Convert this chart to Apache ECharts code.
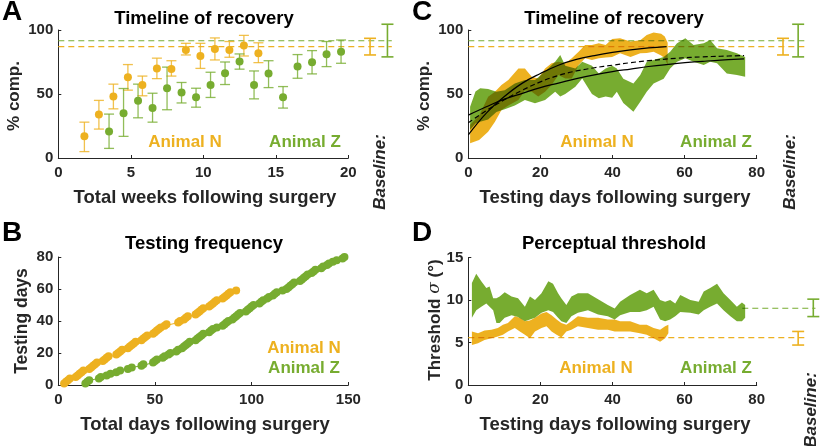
<!DOCTYPE html>
<html><head><meta charset="utf-8">
<script src="https://cdn.jsdelivr.net/npm/echarts@6/dist/echarts.min.js"></script>
<style>html,body{margin:0;padding:0;background:#fff}#c{width:820px;height:446px}</style>
</head><body><div id="c"></div>
<script>
// ---------- Colours ----------
const ORANGE = '#EDB120';
const GREEN = '#77AC30';
const DARK = '#262626';
const FONT = '"Liberation Sans", Arial, Helvetica, sans-serif';

// ---------- Panel A: weekly % completion (mean, error bar low/high) ----------
const weeksN = [1.8, 2.8, 3.8, 4.8, 5.8, 6.8, 7.8, 8.8, 9.8, 10.8, 11.8, 12.8, 13.8];
const pctN   = [17, 34, 48, 63, 57, 70, 69.6, 84.4, 79.7, 85.2, 84.4, 87.8, 81.8];
const loN    = [5, 22.6, 38.4, 53, 48.6, 62, 64, 80.5, 70, 76.6, 78.7, 79.7, 74.5];
const hiN    = [28, 45, 57.7, 73, 64, 78, 76, 89.6, 89.6, 93.8, 91, 95.8, 90];
const weeksZ = [3.5, 4.5, 5.5, 6.5, 7.5, 8.5, 9.5, 10.5, 11.5, 12.5, 13.5, 14.5, 15.5, 16.5, 17.5, 18.5, 19.5];
const pctZ   = [20.8, 35, 44.7, 39, 54.5, 51.2, 47.5, 57.1, 66.2, 75.3, 57.1, 66, 47.5, 71.4, 74.8, 81, 83.1];
const loZ    = [7.5, 16.9, 31.4, 28, 37.7, 43, 39.7, 47.3, 57.4, 69.4, 46.2, 55, 39, 62.3, 65.7, 71.4, 74];
const hiZ    = [34.3, 54.3, 57.7, 50.6, 71, 59, 54.5, 67, 75, 81.3, 68, 76, 55.8, 80.8, 83.9, 91, 92.2];

// Baseline (% comp.): mean, low, high
const baseRecN = [87, 80.5, 93.5];
const baseRecZ = [91.6, 79, 104.5];
// Baseline (threshold): mean, low, high
const baseThrN = [5.57, 4.7, 6.3];
const baseThrZ = [9.03, 8.05, 10.1];

// ---------- Panel B: total day of each testing session ----------
const sessionDaysN = [3,4,5,6, 9,10,11,12,13, 16,17,18,19,20, 23,24,25,26,
  30,31,32,33, 36,37,38,39,40, 43,44,45,46, 49,50,51,52,53, 55,56,
  62,63, 65,66,67, 71,72,73,74,75, 78,79,80,81,82, 85,86,87,88,89, 92];
const sessionDaysZ = [14,15,16, 21,22, 25,27, 30,32, 36,38, 43,44, 49,50,51, 54,55, 57,58, 61,62,
  64,65,66,67,68, 71,72,73,74,75, 78,79,80, 82, 85,86,87,88, 90,91,92,93,94,
  97,98,99,100,101, 104,105,106, 108,109, 111,112,113, 116, 118,119,120,121,122,
  125,126,127,128,129, 131,132,133, 136,137, 139,140, 142, 144, 147,148];

// ---------- Panel C: % comp. band per testing day [day, low, high] ----------
const bandRecN = [[0.5,11.5,26],[3,14,33],[5.5,20.6,47.9],[7.4,28.4,51.8],[9.2,37.5,57],[11.1,41,61],
  [13.9,45.3,70],[15.7,53,70],[17.6,51.8,63.5],[19.4,48,62.2],[21.3,51.8,70],[23.1,57,74],[25,64.8,75.2],
  [26.9,62.2,74],[28.7,62.2,77.9],[30.6,72.7,83],[32.4,77.9,88.3],[34.3,76.6,88.3],[36.2,77.9,89.6],
  [38.1,78.5,88.3],[39.9,79,93],[42.1,81.8,93.5],[45,79,91],[47.7,81.8,92],[49.5,82,96],[51.4,83,98],
  [53.5,80,97],[54.5,77.9,95],[55.3,72.7,90]];
const bandRecZ = [[0.5,22,40],[2,27,52],[3.3,28.4,54.4],[5.5,30,54],[7.8,36,51.8],[10.1,38,53],
  [12.9,41,58.3],[15.7,45.3,61],[18.5,42.7,61],[21.3,45.3,67.5],[24.1,51.8,75.2],[25.5,48,80.5],
  [26.9,50,72],[29.7,55.7,70],[31.6,62.2,75.2],[34.3,50,72],[36.2,46.6,66],[38.1,48,70],[39.9,47,72],
  [41.2,51.8,70],[43,43,62],[45.8,36.2,58.3],[47.7,44,64.8],[49.5,51.8,75.2],[51.4,58.3,76.6],
  [54.2,62,79],[56,70,83],[57.9,75.2,89.6],[60.2,77.9,93.5],[62.5,75.2,88.3],[65.3,72.7,89.6],
  [67.1,75.2,92.2],[69,74,85.7],[71.7,66,84.4],[74.5,64.8,81.8],[76.8,63.5,79]];
// Fitted curves [day, value]
const fitN = [[0,18],[5,35],[10,48],[15,58.5],[20,66],[25,72.5],[30,77],[35,80],[40,82.5],[45,84.5],[50,86],[55,87]];
const fitZ = [[0,33.5],[5,40],[10,46],[15,50.5],[20,55],[25,58.5],[30,62],[35,65],[40,67.5],[45,69.5],[50,71.5],[58,74],[65,75.5],[70,76.5],[76.5,77.5]];
const fitAll = [[0,27.5],[5,37],[10,45.5],[15,53],[20,59.5],[25,64.5],[30,68],[35,70.5],[40,72.5],[45,74.5],[50,76],[58,78],[65,79],[70,79.5],[76.5,80]];

// ---------- Panel D: threshold band per testing day [day, low, high] ----------
const bandThrN = [[1,4.7,6.3],[2.7,4.9,6.1],[4.5,5.3,6.4],[6.4,5.5,6.5],[8.2,5.7,6.7],[9.6,5.9,7.1],
  [11,6.3,7.3],[12.9,6.7,8.1],[14.3,6.3,7.9],[15.7,5.9,7.5],[17.1,5.5,7.6],[18.5,6.3,7.9],[20.3,6.7,8.4],
  [21.7,6.9,8.6],[23.1,6.3,8.2],[24.5,5.9,7.7],[25.8,5.6,7.3],[27.2,6.3,7.1],[28.6,6.5,7.5],[30.4,6.9,8.1],
  [33.2,6.7,7.9],[36,6.5,7.9],[38.7,6.5,7.7],[40.6,6.3,7.7],[42.1,6.3,7.5],[44.9,6.3,7.5],[47.6,6.1,7.1],
  [49.5,5.9,7.1],[51.4,5.5,6.7],[53.2,5.1,6.5],[54.6,5.5,6.9],[55.5,6.1,7.1]];
const bandThrZ = [[1,7.9,12],[2.2,8.8,13.1],[3.6,9.2,12.2],[5,9.6,11.4],[5.9,9.2,11.6],[6.9,8.8,10.2],
  [7.8,7.3,10.2],[8.7,7.3,10.4],[10.1,7.9,10.9],[12,8.2,10.4],[13.8,8,10.2],[15.7,7.5,9.2],[17.1,7.7,10.4],
  [18.5,7.9,10],[20.3,8.5,10.8],[22.2,8.8,12.2],[23.5,8.6,11.9],[24.9,7.9,10.8],[25.8,7.5,10.2],
  [27.2,7.3,9.4],[28.6,8.1,10.4],[30.4,8.5,10.8],[33.2,8.8,10.8],[36,8.3,10.1],[38.7,8.1,9.4],
  [40.6,7.7,9],[42.1,8.2,9.8],[44.9,8.6,10.6],[47.6,8.6,11.2],[49.5,8.8,10.8],[51.4,9.2,11.2],
  [53.2,7.7,10],[54.6,7.5,9.8],[56,7.7,10],[57.4,8.1,9.6],[58.8,8.6,10.6],[61.6,8.5,10],[63.9,8.3,9.8],
  [65.3,8.8,11],[67.1,9.2,11.4],[69,9.6,11.9],[70.8,8.8,10.8],[72.7,8.1,10],[74.5,7.5,9.2],
  [75.9,7.5,9.7],[76.8,7.9,9.4]];

// ---------- helpers ----------
function xAxis(g, min, max, interval) {
  return { gridIndex: g, type: 'value', min, max, interval,
    axisLine: { show: true, onZero: false, lineStyle: { color: DARK, width: 1 } },
    axisTick: { show: true, inside: true, length: 3, lineStyle: { color: DARK } },
    axisLabel: { color: DARK, fontSize: 15, fontWeight: 'bold', fontFamily: FONT, margin: 7 },
    splitLine: { show: false } };
}
function yAxis(g, min, max, interval) {
  return { gridIndex: g, type: 'value', min, max, interval,
    axisLine: { show: true, onZero: false, lineStyle: { color: DARK, width: 1 } },
    axisTick: { show: true, inside: true, length: 3, lineStyle: { color: DARK } },
    axisLabel: { color: DARK, fontSize: 15, fontWeight: 'bold', fontFamily: FONT, margin: 5 },
    splitLine: { show: false } };
}
function errSeries(g, data, color, cap, lw, clip) {
  return { type: 'custom', xAxisIndex: g, yAxisIndex: g, clip: clip, data: data,
    encode: { x: 0, y: 1 }, z: 3,
    renderItem: function (params, api) {
      const x = api.value(0), lo = api.value(2), hi = api.value(3);
      const a = api.coord([x, hi]), b = api.coord([x, lo]);
      const st = { stroke: color, lineWidth: lw };
      return { type: 'group', children: [
        { type: 'line', shape: { x1: a[0], y1: a[1], x2: b[0], y2: b[1] }, style: st },
        { type: 'line', shape: { x1: a[0] - cap, y1: a[1], x2: a[0] + cap, y2: a[1] }, style: st },
        { type: 'line', shape: { x1: b[0] - cap, y1: b[1], x2: b[0] + cap, y2: b[1] }, style: st }
      ] };
    } };
}
function dashSeries(g, x0, x1, y, color) {
  return { type: 'custom', xAxisIndex: g, yAxisIndex: g, clip: false, data: [[x0, y, x1]],
    encode: { x: 0, y: 1 }, z: 1,
    renderItem: function (params, api) {
      const a = api.coord([api.value(0), api.value(1)]), b = api.coord([api.value(2), api.value(1)]);
      return { type: 'line', shape: { x1: a[0], y1: a[1], x2: b[0], y2: b[1] },
        style: { stroke: color, lineWidth: 1.2, lineDash: [6, 4] } };
    } };
}
function bandSeries(g, band, color) {
  return { type: 'custom', xAxisIndex: g, yAxisIndex: g, data: band, encode: { x: 0, y: 1 }, z: 2,
    renderItem: function (params, api) {
      if (params.dataIndex !== 0) return null;
      const pts = [];
      band.forEach(function (d) { pts.push(api.coord([d[0], d[2]])); });
      for (let i = band.length - 1; i >= 0; i--) pts.push(api.coord([band[i][0], band[i][1]]));
      return { type: 'polygon', name: 'band', shape: { points: pts }, style: { fill: color, stroke: null, blend: 'multiply' } };
    } };
}
function fitSeries(g, data, dashed) {
  return { type: 'line', xAxisIndex: g, yAxisIndex: g, data: data, smooth: 0.4, symbol: 'none', z: 4,
    lineStyle: { color: '#000', width: 1.2, type: dashed ? [5, 3] : 'solid' } };
}
function txt(text, x, y, size, color, opt) {
  opt = opt || {};
  return { type: 'text', x: x, y: y, rotation: opt.rot || 0, z: 10,
    style: { text: text, fill: color, align: opt.align || 'center', verticalAlign: 'middle',
      font: (opt.italic ? 'italic ' : '') + 'bold ' + size + 'px ' + FONT, rich: opt.rich } };
}
const R = Math.PI / 2;

const chart = echarts.init(document.getElementById('c'), null, { renderer: 'canvas' });
chart.setOption({
  backgroundColor: '#fff',
  animation: false,
  grid: [
    { left: 58.3, top: 30, width: 290, height: 128 },
    { left: 58.3, top: 257, width: 290, height: 128 },
    { left: 468.3, top: 30, width: 288.4, height: 128 },
    { left: 468.3, top: 257.5, width: 288.4, height: 127.5 }
  ],
  xAxis: [xAxis(0, 0, 20, 5), xAxis(1, 0, 150, 50), xAxis(2, 0, 80, 20), xAxis(3, 0, 80, 20)],
  yAxis: [yAxis(0, 0, 100, 50), yAxis(1, 0, 80, 20), yAxis(2, 0, 100, 50), yAxis(3, 0, 15, 5)],
  series: [
    // Panel A
    dashSeries(0, 0, 23, baseRecZ[0], GREEN),
    dashSeries(0, 0, 23, baseRecN[0], ORANGE),
    errSeries(0, weeksN.map((w, i) => [w, pctN[i], loN[i], hiN[i]]), 'rgba(237,177,32,0.8)', 5, 1.3, false),
    errSeries(0, weeksZ.map((w, i) => [w, pctZ[i], loZ[i], hiZ[i]]), 'rgba(119,172,48,0.8)', 5, 1.3, false),
    { type: 'scatter', xAxisIndex: 0, yAxisIndex: 0, symbolSize: 8, z: 5, itemStyle: { color: ORANGE, opacity: 1 },
      data: weeksN.map((w, i) => [w, pctN[i]]) },
    { type: 'scatter', xAxisIndex: 0, yAxisIndex: 0, symbolSize: 8, z: 5, itemStyle: { color: GREEN, opacity: 1 },
      data: weeksZ.map((w, i) => [w, pctZ[i]]) },
    errSeries(0, [[21.5, baseRecN[0], baseRecN[1], baseRecN[2]]], ORANGE, 6, 1.6, false),
    errSeries(0, [[22.7, baseRecZ[0], baseRecZ[1], baseRecZ[2]]], GREEN, 6, 1.6, false),
    // Panel B
    { type: 'line', xAxisIndex: 1, yAxisIndex: 1, data: sessionDaysN.map((d, i) => [d, i + 1]),
      symbol: 'circle', symbolSize: 8, showSymbol: true, showAllSymbol: true,
      lineStyle: { color: ORANGE, width: 1 }, itemStyle: { color: ORANGE } },
    { type: 'line', xAxisIndex: 1, yAxisIndex: 1, data: sessionDaysZ.map((d, i) => [d, i + 1]),
      symbol: 'circle', symbolSize: 8, showSymbol: true, showAllSymbol: true,
      lineStyle: { color: GREEN, width: 1 }, itemStyle: { color: GREEN } },
    // Panel C
    dashSeries(2, 0, 93.5, baseRecZ[0], GREEN),
    dashSeries(2, 0, 93.5, baseRecN[0], ORANGE),
    bandSeries(2, bandRecN, ORANGE),
    bandSeries(2, bandRecZ, GREEN),
    fitSeries(2, fitN, false),
    fitSeries(2, fitZ, false),
    fitSeries(2, fitAll, true),
    errSeries(2, [[87.3, baseRecN[0], baseRecN[1], baseRecN[2]]], ORANGE, 6, 1.6, false),
    errSeries(2, [[91.5, baseRecZ[0], baseRecZ[1], baseRecZ[2]]], GREEN, 6, 1.6, false),
    // Panel D
    dashSeries(3, 0, 94, baseThrN[0], ORANGE),
    dashSeries(3, 76, 96.3, baseThrZ[0], GREEN),
    bandSeries(3, bandThrN, ORANGE),
    bandSeries(3, bandThrZ, GREEN),
    errSeries(3, [[91.5, baseThrN[0], baseThrN[1], baseThrN[2]]], ORANGE, 6, 1.6, false),
    errSeries(3, [[95.7, baseThrZ[0], baseThrZ[1], baseThrZ[2]]], GREEN, 6, 1.6, false)
  ],
  graphic: [
    // panel letters
    txt('A', 2, 12, 28, '#000', { align: 'left' }),
    txt('B', 2, 233, 28, '#000', { align: 'left' }),
    txt('C', 412, 12, 28, '#000', { align: 'left' }),
    txt('D', 412, 233, 28, '#000', { align: 'left' }),
    // titles
    txt('Timeline of recovery', 204, 19, 18.5, '#000'),
    txt('Testing frequency', 204, 244, 18.5, '#000'),
    txt('Timeline of recovery', 614, 19, 18.5, '#000'),
    txt('Perceptual threshold', 614, 244, 18.5, '#000'),
    // axis names
    txt('% comp.', 14, 96, 17, DARK, { rot: R }),
    txt('Total weeks following surgery', 205, 198, 18.5, DARK),
    txt('Testing days', 22, 321, 17.5, DARK, { rot: R }),
    txt('Total days following surgery', 205, 425, 18.5, DARK),
    txt('% comp.', 424, 96, 17, DARK, { rot: R }),
    txt('Testing days following surgery', 615, 198, 18.5, DARK),
    { type: 'text', x: 435, y: 320, rotation: R, z: 10,
      style: { text: '{a|Threshold }{b|σ}{a| (°)}', align: 'center', verticalAlign: 'middle',
        rich: { a: { font: 'bold 17px ' + FONT, fill: DARK }, b: { font: 'italic 17px "DejaVu Serif", serif', fill: DARK } } } },
    txt('Testing days following surgery', 615, 425, 18.5, DARK),
    // animal labels
    txt('Animal N', 185, 142, 17, ORANGE),
    txt('Animal Z', 305, 142, 17, GREEN),
    txt('Animal N', 304, 348, 17, ORANGE),
    txt('Animal Z', 304, 368, 17, GREEN),
    txt('Animal N', 597, 142, 17, ORANGE),
    txt('Animal Z', 716, 142, 17, GREEN),
    txt('Animal N', 596, 368, 17, ORANGE),
    txt('Animal Z', 716, 368, 17, GREEN),
    // Baseline labels
    txt('Baseline:', 380, 172, 17, DARK, { rot: R, italic: true }),
    txt('Baseline:', 790, 172, 17, DARK, { rot: R, italic: true }),
    txt('Baseline:', 811, 410, 17, DARK, { rot: R, italic: true })
  ]
});

// make overlapping confidence bands mix like transparent MATLAB patches (multiply)
(function applyBlend() {
  const zr = chart.getZr();
  const list = zr.storage.getDisplayList(true);
  list.forEach(function (el) {
    if (el.type === 'polygon' && el.style && (el.style.fill === ORANGE || el.style.fill === GREEN)) {
      el.style.blend = 'multiply';
      el.dirty && el.dirty();
    }
  });
  zr.refreshImmediately();
})();
</script></body></html>
